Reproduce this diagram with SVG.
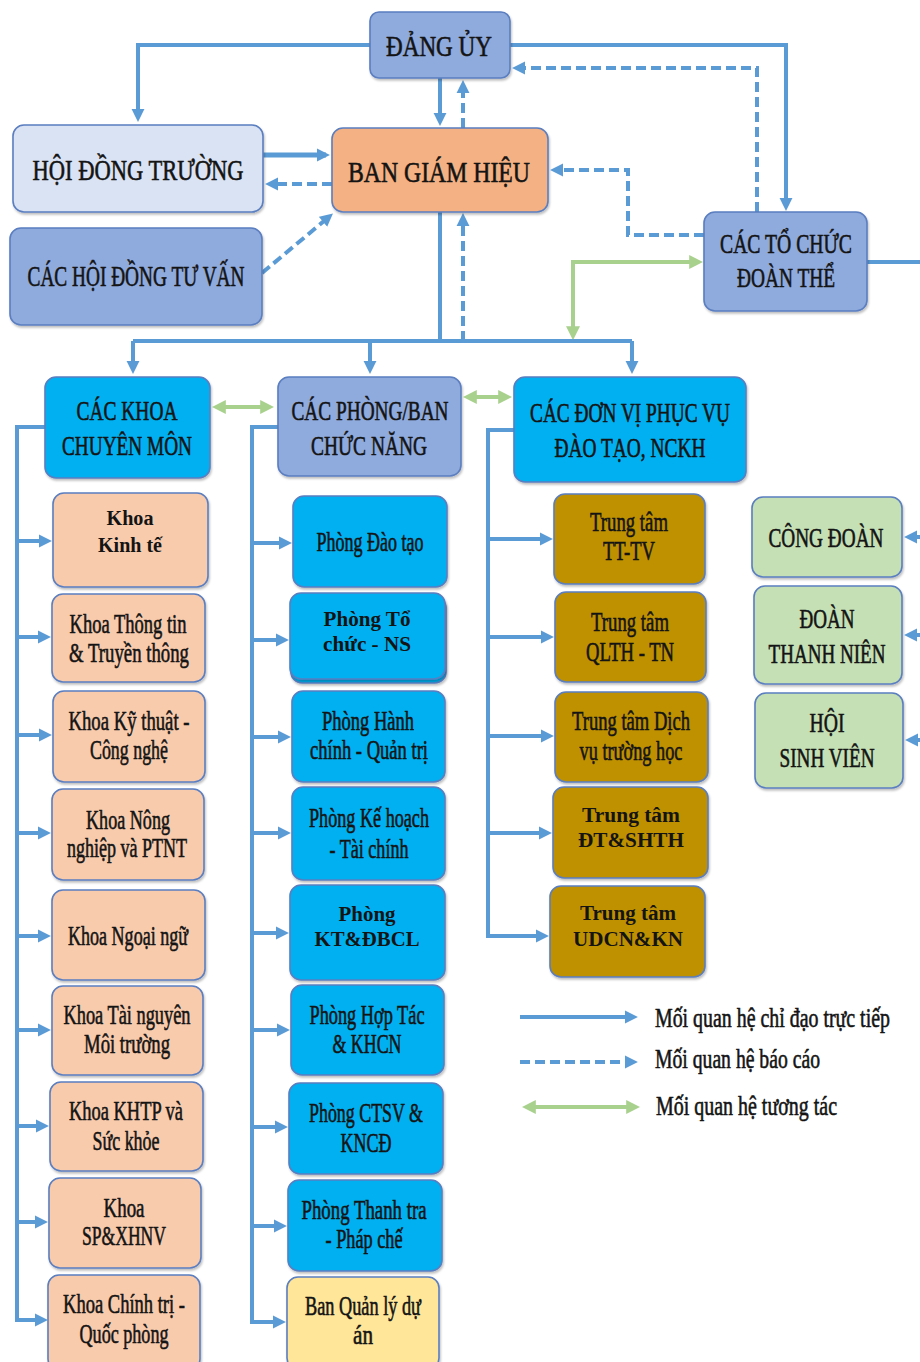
<svg xmlns="http://www.w3.org/2000/svg" width="920" height="1362" viewBox="0 0 920 1362">
<style>
.box{stroke:#5A7EC0;stroke-width:1.6;filter:url(#sh)}
.lil{fill:#8FAADC}.lt{fill:#DAE3F3}.or{fill:#F4B183}.cy{fill:#00B0F0}.pe{fill:#F8CBAD}.go{fill:#BF9000}.gr{fill:#C5E0B4}.ye{fill:#FFE699}
.t{font-family:"Liberation Serif","Times New Roman",serif;font-size:27px;text-anchor:middle;fill:#141414;stroke:#141414;stroke-width:0.6}
.h{font-size:30px}
.b{font-family:"Liberation Serif","Times New Roman",serif;font-size:20px;font-weight:bold;text-anchor:middle;fill:#141414}
.s{fill:none;stroke:#5B9BD5;stroke-width:4}
.d{fill:none;stroke:#5B9BD5;stroke-width:4;stroke-dasharray:10 5}
.g{fill:none;stroke:#A9D18E;stroke-width:4}
</style>
<defs>
<filter id="sh" x="-10%" y="-10%" width="120%" height="130%"><feDropShadow dx="1" dy="2" stdDeviation="1.2" flood-color="#000" flood-opacity="0.25"/></filter>
<marker id="ab" viewBox="0 0 10 10" refX="7" refY="5" markerWidth="13" markerHeight="14" orient="auto" markerUnits="userSpaceOnUse"><path d="M0,0 L10,5 L0,10 z" fill="#5B9BD5"/></marker>
<marker id="ag" viewBox="0 0 10 10" refX="7" refY="5" markerWidth="14" markerHeight="16" orient="auto-start-reverse" markerUnits="userSpaceOnUse"><path d="M0,0 L10,5 L0,10 z" fill="#A9D18E"/></marker>
</defs>

<g id="connectors">
<path class="s" d="M372,45 H138 V118" marker-end="url(#ab)"/>
<path class="s" d="M508,45 H786 V207" marker-end="url(#ab)"/>
<path class="s" d="M440,78 V122" marker-end="url(#ab)"/>
<path class="d" d="M757,212 V68 H516" marker-end="url(#ab)"/>
<path class="d" d="M463,128 V84" marker-end="url(#ab)"/>
<path class="s" style="stroke-width:5" d="M263,155 H326" marker-end="url(#ab)"/>
<path class="d" d="M332,184 H269" marker-end="url(#ab)"/>
<path class="d" d="M262,273 L330,216" marker-end="url(#ab)"/>
<path class="d" d="M704,235 H628 V170 H554" marker-end="url(#ab)"/>
<path class="g" d="M699,262 H573 V336" marker-start="url(#ag)" marker-end="url(#ag)"/>
<path class="s" d="M867,262 H920"/>
<path class="s" d="M440,212 V341"/>
<path class="s" d="M133,341 H632"/>
<path class="s" d="M133,341 V370" marker-end="url(#ab)"/>
<path class="s" d="M370,341 V370" marker-end="url(#ab)"/>
<path class="s" d="M632,341 V370" marker-end="url(#ab)"/>
<path class="d" d="M463,341 V217" marker-end="url(#ab)"/>
<path class="g" d="M216,407 H270" marker-start="url(#ag)" marker-end="url(#ag)"/>
<path class="g" d="M467,397 H508" marker-start="url(#ag)" marker-end="url(#ag)"/>
<path class="s" d="M45,427 H17 V1320 H44" marker-end="url(#ab)"/>
<path class="s" d="M17,541 H48" marker-end="url(#ab)"/>
<path class="s" d="M17,637 H47" marker-end="url(#ab)"/>
<path class="s" d="M17,735 H48" marker-end="url(#ab)"/>
<path class="s" d="M17,833 H47" marker-end="url(#ab)"/>
<path class="s" d="M17,936 H47" marker-end="url(#ab)"/>
<path class="s" d="M17,1030 H47" marker-end="url(#ab)"/>
<path class="s" d="M17,1126 H45" marker-end="url(#ab)"/>
<path class="s" d="M17,1222 H44" marker-end="url(#ab)"/>
<path class="s" d="M278,427 H252 V1322 H282" marker-end="url(#ab)"/>
<path class="s" d="M252,543 H288" marker-end="url(#ab)"/>
<path class="s" d="M252,640 H285" marker-end="url(#ab)"/>
<path class="s" d="M252,737 H287" marker-end="url(#ab)"/>
<path class="s" d="M252,833 H287" marker-end="url(#ab)"/>
<path class="s" d="M252,933 H285" marker-end="url(#ab)"/>
<path class="s" d="M252,1030 H286" marker-end="url(#ab)"/>
<path class="s" d="M252,1127 H284" marker-end="url(#ab)"/>
<path class="s" d="M252,1226 H283" marker-end="url(#ab)"/>
<path class="s" d="M514,430 H488 V936 H545" marker-end="url(#ab)"/>
<path class="s" d="M488,539 H549" marker-end="url(#ab)"/>
<path class="s" d="M488,637 H550" marker-end="url(#ab)"/>
<path class="s" d="M488,736 H550" marker-end="url(#ab)"/>
<path class="s" d="M488,833 H548" marker-end="url(#ab)"/>
<path class="s" d="M920,537 H908" marker-end="url(#ab)"/>
<path class="s" d="M920,635 H908" marker-end="url(#ab)"/>
<path class="s" d="M920,740 H909" marker-end="url(#ab)"/>
<path class="s" d="M520,1017 H634" marker-end="url(#ab)"/>
<path class="d" d="M520,1062 H634" marker-end="url(#ab)"/>
<path class="g" d="M526,1107 H636" marker-start="url(#ag)" marker-end="url(#ag)"/>
</g>

<g id="dang-uy"><rect class="box lil" x="370" y="12" width="140" height="66" rx="9"/>
<text class="t h" x="439" y="56" textLength="106" lengthAdjust="spacingAndGlyphs">ĐẢNG ỦY</text></g>
<g id="hoi-dong-truong"><rect class="box lt" x="13" y="125" width="250" height="87" rx="11"/>
<text class="t h" x="138" y="180" textLength="211" lengthAdjust="spacingAndGlyphs">HỘI ĐỒNG TRƯỜNG</text></g>
<g id="ban-giam-hieu"><rect class="box or" x="332" y="128" width="216" height="84" rx="11"/>
<text class="t h" x="439" y="182" textLength="182" lengthAdjust="spacingAndGlyphs">BAN GIÁM HIỆU</text></g>
<g id="hoi-dong-tu-van"><rect class="box lil" x="10" y="228" width="252" height="97" rx="11"/>
<text class="t" style="font-size:29px" x="136" y="286" textLength="217" lengthAdjust="spacingAndGlyphs">CÁC HỘI ĐỒNG TƯ VẤN</text></g>
<g id="to-chuc-doan-the"><rect class="box lil" x="704" y="212" width="163" height="99" rx="11"/>
<text class="t" style="font-size:28px" x="786" y="253" textLength="132" lengthAdjust="spacingAndGlyphs">CÁC TỔ CHỨC</text>
<text class="t" style="font-size:28px" x="786" y="287" textLength="98" lengthAdjust="spacingAndGlyphs">ĐOÀN THỂ</text></g>

<g id="cac-khoa"><rect class="box cy" x="45" y="377" width="165" height="101" rx="11"/>
<text class="t" style="font-size:28px" x="127" y="420" textLength="101" lengthAdjust="spacingAndGlyphs">CÁC KHOA</text>
<text class="t" style="font-size:28px" x="127" y="455" textLength="130" lengthAdjust="spacingAndGlyphs">CHUYÊN MÔN</text></g>
<g id="cac-phong-ban"><rect class="box lil" x="278" y="377" width="183" height="99" rx="11"/>
<text class="t" style="font-size:28px" x="370" y="420" textLength="157" lengthAdjust="spacingAndGlyphs">CÁC PHÒNG/BAN</text>
<text class="t" style="font-size:28px" x="369" y="455" textLength="116" lengthAdjust="spacingAndGlyphs">CHỨC NĂNG</text></g>
<g id="cac-don-vi"><rect class="box cy" x="514" y="377" width="232" height="105" rx="11"/>
<text class="t" style="font-size:28px" x="630" y="422" textLength="200" lengthAdjust="spacingAndGlyphs">CÁC ĐƠN VỊ PHỤC VỤ</text>
<text class="t" style="font-size:28px" x="630" y="457" textLength="151" lengthAdjust="spacingAndGlyphs">ĐÀO TẠO, NCKH</text></g>

<g id="khoa-kinh-te"><rect class="box pe" x="53" y="493" width="155" height="94" rx="11"/>
<text class="b" x="130" y="525" textLength="47" lengthAdjust="spacingAndGlyphs">Khoa</text>
<text class="b" x="130" y="552" textLength="64" lengthAdjust="spacingAndGlyphs">Kinh tế</text></g>
<g id="khoa-ttt"><rect class="box pe" x="52" y="594" width="153" height="88" rx="11"/>
<text class="t" x="128" y="633" textLength="117" lengthAdjust="spacingAndGlyphs">Khoa Thông tin</text>
<text class="t" x="129" y="662" textLength="120" lengthAdjust="spacingAndGlyphs">&amp; Truyền thông</text></g>
<g id="khoa-ktcn"><rect class="box pe" x="53" y="691" width="152" height="91" rx="11"/>
<text class="t" x="129" y="730" textLength="121" lengthAdjust="spacingAndGlyphs">Khoa Kỹ thuật -</text>
<text class="t" x="129" y="759" textLength="78" lengthAdjust="spacingAndGlyphs">Công nghệ</text></g>
<g id="khoa-nn-ptnt"><rect class="box pe" x="52" y="789" width="152" height="91" rx="11"/>
<text class="t" x="128" y="829" textLength="84" lengthAdjust="spacingAndGlyphs">Khoa Nông</text>
<text class="t" x="127" y="857" textLength="120" lengthAdjust="spacingAndGlyphs">nghiệp và PTNT</text></g>
<g id="khoa-ngoai-ngu"><rect class="box pe" x="52" y="890" width="153" height="90" rx="11"/>
<text class="t" x="128" y="945" textLength="120" lengthAdjust="spacingAndGlyphs">Khoa Ngoại ngữ</text></g>
<g id="khoa-tnmt"><rect class="box pe" x="52" y="986" width="151" height="89" rx="11"/>
<text class="t" x="127" y="1024" textLength="127" lengthAdjust="spacingAndGlyphs">Khoa Tài nguyên</text>
<text class="t" x="127" y="1053" textLength="86" lengthAdjust="spacingAndGlyphs">Môi trường</text></g>
<g id="khoa-khtp"><rect class="box pe" x="50" y="1082" width="153" height="89" rx="11"/>
<text class="t" x="126" y="1120" textLength="114" lengthAdjust="spacingAndGlyphs">Khoa KHTP và</text>
<text class="t" x="126" y="1150" textLength="67" lengthAdjust="spacingAndGlyphs">Sức khỏe</text></g>
<g id="khoa-sp"><rect class="box pe" x="49" y="1178" width="152" height="90" rx="11"/>
<text class="t" x="124" y="1217" textLength="41" lengthAdjust="spacingAndGlyphs">Khoa</text>
<text class="t" x="124" y="1245" textLength="84" lengthAdjust="spacingAndGlyphs">SP&amp;XHNV</text></g>
<g id="khoa-ctqp"><rect class="box pe" x="48" y="1275" width="152" height="95" rx="11"/>
<text class="t" x="124" y="1313" textLength="122" lengthAdjust="spacingAndGlyphs">Khoa Chính trị -</text>
<text class="t" x="124" y="1343" textLength="89" lengthAdjust="spacingAndGlyphs">Quốc phòng</text></g>

<g id="phong-dao-tao"><rect class="box cy" x="293" y="496" width="154" height="91" rx="11"/>
<text class="t" x="370" y="551" textLength="107" lengthAdjust="spacingAndGlyphs">Phòng Đào tạo</text></g>
<g id="phong-to-chuc"><rect class="box cy" x="291" y="597" width="155" height="86" rx="11"/><rect class="box cy" x="290" y="593" width="155" height="86" rx="11"/>
<text class="b" x="367" y="626" textLength="87" lengthAdjust="spacingAndGlyphs">Phòng Tổ</text>
<text class="b" x="367" y="651" textLength="88" lengthAdjust="spacingAndGlyphs">chức - NS</text></g>
<g id="phong-hcqt"><rect class="box cy" x="292" y="691" width="153" height="91" rx="11"/>
<text class="t" x="368" y="730" textLength="92" lengthAdjust="spacingAndGlyphs">Phòng Hành</text>
<text class="t" x="369" y="759" textLength="118" lengthAdjust="spacingAndGlyphs">chính - Quản trị</text></g>
<g id="phong-khtc"><rect class="box cy" x="292" y="787" width="153" height="93" rx="11"/>
<text class="t" x="369" y="827" textLength="120" lengthAdjust="spacingAndGlyphs">Phòng Kế hoạch</text>
<text class="t" x="369" y="858" textLength="79" lengthAdjust="spacingAndGlyphs">- Tài chính</text></g>
<g id="phong-kt-dbcl"><rect class="box cy" x="290" y="885" width="155" height="95" rx="11"/>
<text class="b" x="367" y="921" textLength="57" lengthAdjust="spacingAndGlyphs">Phòng</text>
<text class="b" x="367" y="946" textLength="105" lengthAdjust="spacingAndGlyphs">KT&amp;ĐBCL</text></g>
<g id="phong-hop-tac"><rect class="box cy" x="291" y="985" width="153" height="90" rx="11"/>
<text class="t" x="367" y="1024" textLength="115" lengthAdjust="spacingAndGlyphs">Phòng Hợp Tác</text>
<text class="t" x="367" y="1053" textLength="69" lengthAdjust="spacingAndGlyphs">&amp; KHCN</text></g>
<g id="phong-ctsv"><rect class="box cy" x="289" y="1083" width="154" height="91" rx="11"/>
<text class="t" x="366" y="1122" textLength="114" lengthAdjust="spacingAndGlyphs">Phòng CTSV &amp;</text>
<text class="t" x="366" y="1152" textLength="51" lengthAdjust="spacingAndGlyphs">KNCĐ</text></g>
<g id="phong-thanh-tra"><rect class="box cy" x="288" y="1180" width="154" height="91" rx="11"/>
<text class="t" x="364" y="1219" textLength="125" lengthAdjust="spacingAndGlyphs">Phòng Thanh tra</text>
<text class="t" x="364" y="1248" textLength="77" lengthAdjust="spacingAndGlyphs">- Pháp chế</text></g>
<g id="ban-quan-ly"><rect class="box ye" x="287" y="1277" width="152" height="92" rx="11"/>
<text class="t" x="363" y="1315" textLength="116" lengthAdjust="spacingAndGlyphs">Ban Quản lý dự</text>
<text class="t" x="363" y="1344" textLength="20" lengthAdjust="spacingAndGlyphs">án</text></g>

<g id="tt-tttv"><rect class="box go" x="554" y="494" width="151" height="90" rx="11"/>
<text class="t" x="629" y="531" textLength="78" lengthAdjust="spacingAndGlyphs">Trung tâm</text>
<text class="t" x="629" y="560" textLength="52" lengthAdjust="spacingAndGlyphs">TT-TV</text></g>
<g id="tt-qlth"><rect class="box go" x="555" y="592" width="151" height="90" rx="11"/>
<text class="t" x="630" y="631" textLength="78" lengthAdjust="spacingAndGlyphs">Trung tâm</text>
<text class="t" x="630" y="661" textLength="88" lengthAdjust="spacingAndGlyphs">QLTH - TN</text></g>
<g id="tt-dich-vu"><rect class="box go" x="555" y="692" width="153" height="90" rx="11"/>
<text class="t" x="631" y="730" textLength="118" lengthAdjust="spacingAndGlyphs">Trung tâm Dịch</text>
<text class="t" x="631" y="760" textLength="103" lengthAdjust="spacingAndGlyphs">vụ trường học</text></g>
<g id="tt-dt-shth"><rect class="box go" x="553" y="787" width="155" height="91" rx="11"/>
<text class="b" x="631" y="822" textLength="98" lengthAdjust="spacingAndGlyphs">Trung tâm</text>
<text class="b" x="631" y="847" textLength="106" lengthAdjust="spacingAndGlyphs">ĐT&amp;SHTH</text></g>
<g id="tt-udcn"><rect class="box go" x="550" y="886" width="155" height="91" rx="11"/>
<text class="b" x="628" y="920" textLength="96" lengthAdjust="spacingAndGlyphs">Trung tâm</text>
<text class="b" x="628" y="946" textLength="110" lengthAdjust="spacingAndGlyphs">UDCN&amp;KN</text></g>

<g id="cong-doan"><rect class="box gr" x="752" y="497" width="150" height="80" rx="11"/>
<text class="t" transform="scale(0.75,1)" x="1101.3" y="547" textLength="153.3" lengthAdjust="spacingAndGlyphs">CÔNG ĐOÀN</text></g>
<g id="doan-thanh-nien"><rect class="box gr" x="754" y="586" width="148" height="98" rx="11"/>
<text class="t" x="827" y="628" textLength="55" lengthAdjust="spacingAndGlyphs">ĐOÀN</text>
<text class="t" transform="scale(0.75,1)" x="1102.7" y="663" textLength="156" lengthAdjust="spacingAndGlyphs">THANH NIÊN</text></g>
<g id="hoi-sinh-vien"><rect class="box gr" x="755" y="693" width="148" height="95" rx="11"/>
<text class="t" x="827" y="732" textLength="35" lengthAdjust="spacingAndGlyphs">HỘI</text>
<text class="t" x="827" y="767" textLength="95" lengthAdjust="spacingAndGlyphs">SINH VIÊN</text></g>

<g id="legend">
<text class="t" style="text-anchor:start" transform="scale(0.75,1)" x="873.3" y="1027" textLength="313.3" lengthAdjust="spacingAndGlyphs">Mối quan hệ chỉ đạo trực tiếp</text>
<text class="t" style="text-anchor:start" x="655" y="1068" textLength="165" lengthAdjust="spacingAndGlyphs">Mối quan hệ báo cáo</text>
<text class="t" style="text-anchor:start" x="656" y="1115" textLength="181" lengthAdjust="spacingAndGlyphs">Mối quan hệ tương tác</text>
</g>
</svg>
